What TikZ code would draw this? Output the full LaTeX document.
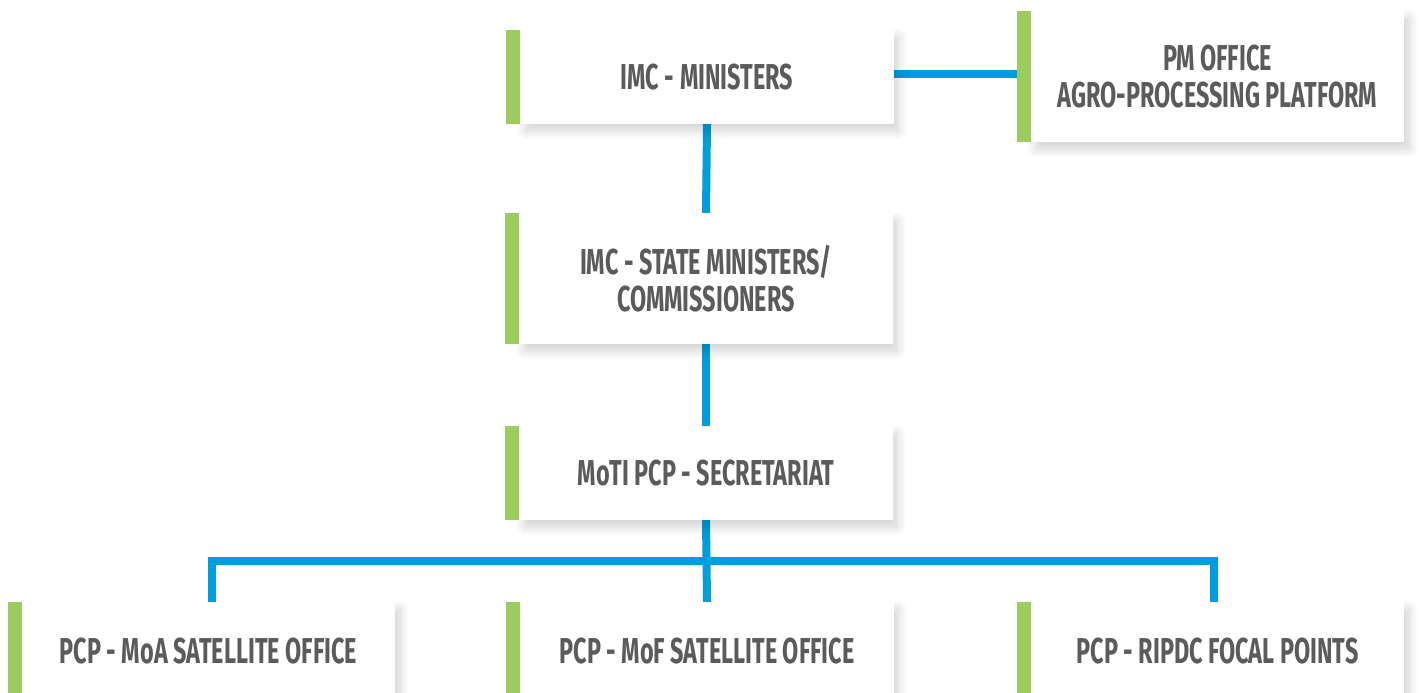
\documentclass[tikz,border=0pt]{standalone}
\usepackage{fontspec}
\setmainfont{Fira Sans}[FakeStretch=0.65]
\usetikzlibrary{shadows.blur,backgrounds}
\definecolor{bargreen}{HTML}{9CCC5F}
\definecolor{linkblue}{HTML}{009DDC}
\definecolor{txtgray}{HTML}{5B5B5D}
\tikzset{
  orgbox/.style={draw=none, fill=white, inner sep=0pt, align=center,
    minimum width=373pt, text=txtgray,
    font=\fontsize{36}{37}\selectfont\bfseries,
    blur shadow={shadow xshift=5pt, shadow yshift=-7pt, shadow blur radius=9pt, shadow blur steps=12, shadow opacity=18}},
  shortbox/.style={orgbox, minimum height=94pt},
  tallbox/.style={orgbox, minimum height=131pt},
  lowbox/.style={orgbox, minimum height=98pt},
  conn/.style={draw=linkblue, line width=8pt},
  greenbar/.style={fill=bargreen, draw=none}
}
\begin{document}
\begin{tikzpicture}[x=1pt,y=-1pt]
\useasboundingbox (0,0) rectangle (1419,693);
\node[shortbox] (m) at (707,77) {IMC - MINISTERS};
\node[tallbox] (pm) at (1217.5,76.5) {PM OFFICE\\AGRO-PROCESSING PLATFORM};
\node[tallbox] (s) at (706,278.5) {IMC - STATE MINISTERS/\\COMMISSIONERS};
\node[shortbox] (sec) at (706,473) {MoTI PCP - SECRETARIAT};
\node[lowbox] (b1) at (208.5,651) {PCP - MoA SATELLITE OFFICE};
\node[lowbox] (b2) at (707,651) {PCP - MoF SATELLITE OFFICE};
\node[lowbox] (b3) at (1217.5,651) {PCP - RIPDC FOCAL POINTS};
\foreach \n in {m,pm,s,sec,b1,b2,b3}
  \fill[greenbar] (\n.north west) rectangle ([xshift=-14pt]\n.south west);
\coordinate (bus) at (707,561);
\begin{scope}[on background layer]
\draw[conn] ([yshift=3pt]m.east) -- ([xshift=-14pt,yshift=3pt]m.east -| pm.west);
\draw[conn] (m.south) -- (s.north);
\draw[conn] (s.south) -- (sec.north);
\draw[conn] (sec.south) -- (b2.north);
\draw[conn] ([xshift=3.5pt]b1.north) |- (bus) -| ([xshift=-3.5pt]b3.north);
\end{scope}
\end{tikzpicture}
\end{document}
